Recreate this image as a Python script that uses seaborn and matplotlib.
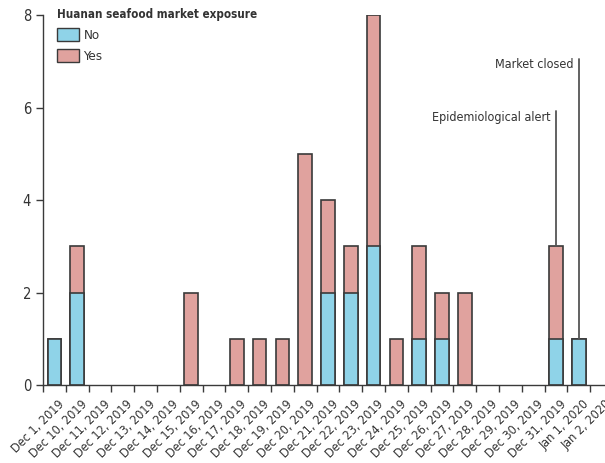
import numpy as np
import pandas as pd
import seaborn as sns
import matplotlib.pyplot as plt
from matplotlib.patches import Patch

dates = ["Dec 1, 2019", "Dec 10, 2019", "Dec 11, 2019", "Dec 12, 2019", "Dec 13, 2019",
         "Dec 14, 2019", "Dec 15, 2019", "Dec 16, 2019", "Dec 17, 2019", "Dec 18, 2019",
         "Dec 19, 2019", "Dec 20, 2019", "Dec 21, 2019", "Dec 22, 2019", "Dec 23, 2019",
         "Dec 24, 2019", "Dec 25, 2019", "Dec 26, 2019", "Dec 27, 2019", "Dec 28, 2019",
         "Dec 29, 2019", "Dec 30, 2019", "Dec 31, 2019", "Jan 1, 2020", "Jan 2, 2020"]
no_exposure = [1, 2, 0, 0, 0, 0, 0, 0, 0, 0, 0, 0, 2, 2, 3, 0, 1, 1, 0, 0, 0, 0, 1, 1, 0]
yes_exposure = [0, 1, 0, 0, 0, 0, 2, 0, 1, 1, 1, 5, 2, 1, 5, 1, 2, 1, 2, 0, 0, 0, 2, 0, 0]
events = [("Dec 31, 2019", "Epidemiological alert", 5.78), ("Jan 1, 2020", "Market closed", 6.92)]

df = pd.DataFrame({"date": dates, "No": no_exposure, "Yes": yes_exposure})
df["total"] = df["No"] + df["Yes"]

sns.set_style("ticks")
plt.rcParams["font.family"] = ["DejaVu Sans"]
plt.rcParams["font.stretch"] = "condensed"

blue = "#8fd3e8"
pink = "#e0a29e"
edge = "#3a3a3a"
ink = "#333333"

fig = plt.figure(figsize=(6.05, 4.63), dpi=100)
ax = fig.add_axes([0.071, 0.1685, 0.929, 0.799])

sns.barplot(data=df, x="date", y="total", color=pink, width=0.6,
            edgecolor=edge, linewidth=1.2, saturation=1, ax=ax)
sns.barplot(data=df, x="date", y="No", color=blue, width=0.6,
            edgecolor=edge, linewidth=1.2, saturation=1, ax=ax)
# hide empty bars so no flat outline sits on the axis
for p in ax.patches:
    if p.get_height() == 0:
        p.set_visible(False)

n = len(dates)
ax.set_xlim(-0.5, n - 0.93)
ax.set_ylim(0, 8)
# ticks between bars, labels under bar centres
ax.set_xticks(np.arange(n) - 0.5)
ax.set_xticklabels([])
ax.set_xticks(np.arange(n) + 0.15, minor=True)
ax.set_xticklabels(dates, minor=True, rotation=45, ha="right", rotation_mode="anchor",
                   fontsize=9, color=ink)
ax.tick_params(axis="x", which="minor", length=0, pad=9)
ax.set_yticks([0, 2, 4, 6, 8])
ax.set_yticklabels(["0", "2", "4", "6", "8"], fontsize=10.5, color=ink)
ax.tick_params(axis="both", which="major", direction="out", length=5, width=1, color=edge)
ax.set_xlabel("")
ax.set_ylabel("")
sns.despine(ax=ax)
for s in ["left", "bottom"]:
    ax.spines[s].set_color(edge)
    ax.spines[s].set_linewidth(1)

for date, label, top in events:
    i = dates.index(date)
    base = df.loc[i, "total"]
    ax.plot([i, i], [base, top + 0.14], color="#555555", lw=1.3, zorder=1)
    ax.text(i - 0.25, top, label, ha="right", va="center", fontsize=9, color=ink)

handles = [Patch(facecolor=blue, edgecolor=edge, label="No"),
           Patch(facecolor=pink, edgecolor=edge, label="Yes")]
leg = ax.legend(handles=handles, title="Huanan seafood market exposure", loc="upper left",
                bbox_to_anchor=(0.025, 1.02), frameon=False, fontsize=9.5,
                title_fontsize=8.4, alignment="left", handlelength=1.7, handleheight=1.1,
                handletextpad=0.3, labelspacing=0.55, borderaxespad=0, borderpad=0)
leg.get_title().set_fontweight("bold")
leg.get_title().set_color(ink)
for t in leg.get_texts():
    t.set_color(ink)

fig.savefig("out.png", dpi=100)
